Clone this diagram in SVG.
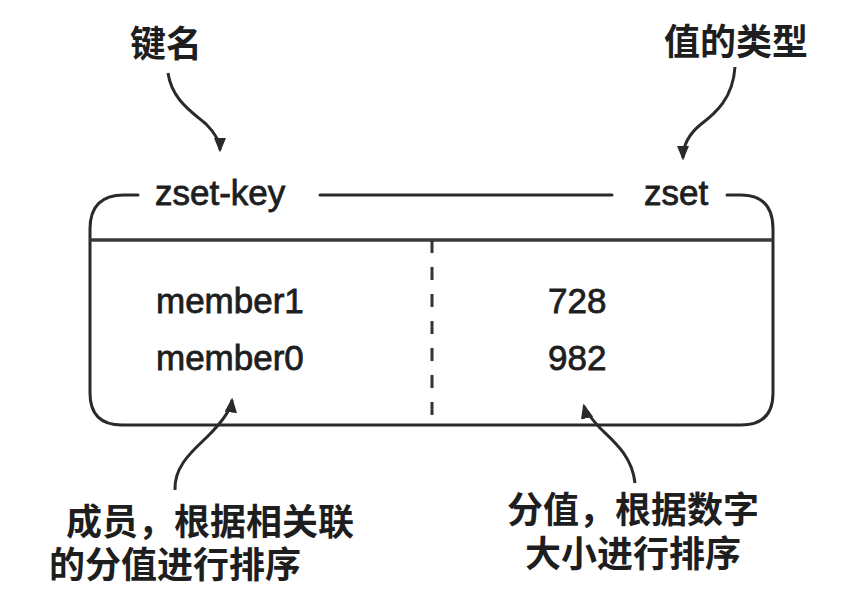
<svg xmlns="http://www.w3.org/2000/svg" width="864" height="598" viewBox="0 0 864 598">
  <defs>
    <style>
      .lat { font-family: "Liberation Sans", Arial, sans-serif; font-size: 35px; fill: #1e1e1e; stroke: #1e1e1e; stroke-width: 0.8; }
      .cjk { font-family: "Liberation Sans", "Noto Sans CJK SC", sans-serif; font-size: 36px; font-weight: bold; fill: #1e1e1e; }
      .box { fill: none; stroke: #2a2a2a; stroke-width: 3; stroke-linecap: round; }
      .div { fill: none; stroke: #3a3a3a; stroke-width: 3.5; }
      .dash { fill: none; stroke: #333; stroke-width: 3; stroke-dasharray: 13 14; }
      .arr { fill: none; stroke: #2a2a2a; stroke-width: 3; marker-end: url(#ah); }
    </style>
    <marker id="ah" viewBox="0 0 12 10" refX="10" refY="5" markerWidth="5" markerHeight="4.2" markerUnits="strokeWidth" orient="auto">
      <path d="M0,0 L12,5 L0,10 Z" fill="#2a2a2a"/>
    </marker>
  </defs>
  <rect width="864" height="598" fill="#ffffff"/>

  <g id="zset-box">
    <path class="box" d="M138,195 L124,195 Q90,195 90,229 L90,393 Q90,425 122,425 L741,425 Q773,425 773,393 L773,229 Q773,195 741,195 L727,195"/>
    <line class="box" x1="320" y1="195" x2="612" y2="195"/>
    <line class="div" x1="90" y1="240" x2="773" y2="240"/>
    <line class="dash" x1="432" y1="240" x2="432" y2="425"/>
    <text class="lat" x="155" y="205">zset-key</text>
    <text class="lat" x="644" y="205">zset</text>
    <text class="lat" x="156" y="313">member1</text>
    <text class="lat" x="156" y="370">member0</text>
    <text class="lat" x="548" y="313">728</text>
    <text class="lat" x="548" y="370">982</text>
  </g>

  <g id="label-key">
    <text class="cjk" x="130" y="57">键名</text>
  </g>
  <g id="label-type">
    <text class="cjk" x="664" y="55">值的类型</text>
  </g>
  <g id="label-member">
    <text class="cjk" x="66" y="535">成员，根据相关联</text>
    <text class="cjk" x="49" y="578">的分值进行排序</text>
  </g>
  <g id="label-score">
    <text class="cjk" x="507" y="523">分值，根据数字</text>
    <text class="cjk" x="525" y="567">大小进行排序</text>
  </g>

  <g id="connectors">
    <path class="arr" d="M168,73 C172,100 192,112 206,124 C216,134 220,142 220,150"/>
    <path class="arr" d="M735,67 C733,98 716,113 700,125 C688,135 683,146 683,158"/>
    <path class="arr" d="M175,490 C174,465 194,450 208,436 C222,422 231,410 232,400"/>
    <path class="arr" d="M635,483 C632,455 612,440 600,428 C590,417 585,410 584,406"/>
  </g>
</svg>
